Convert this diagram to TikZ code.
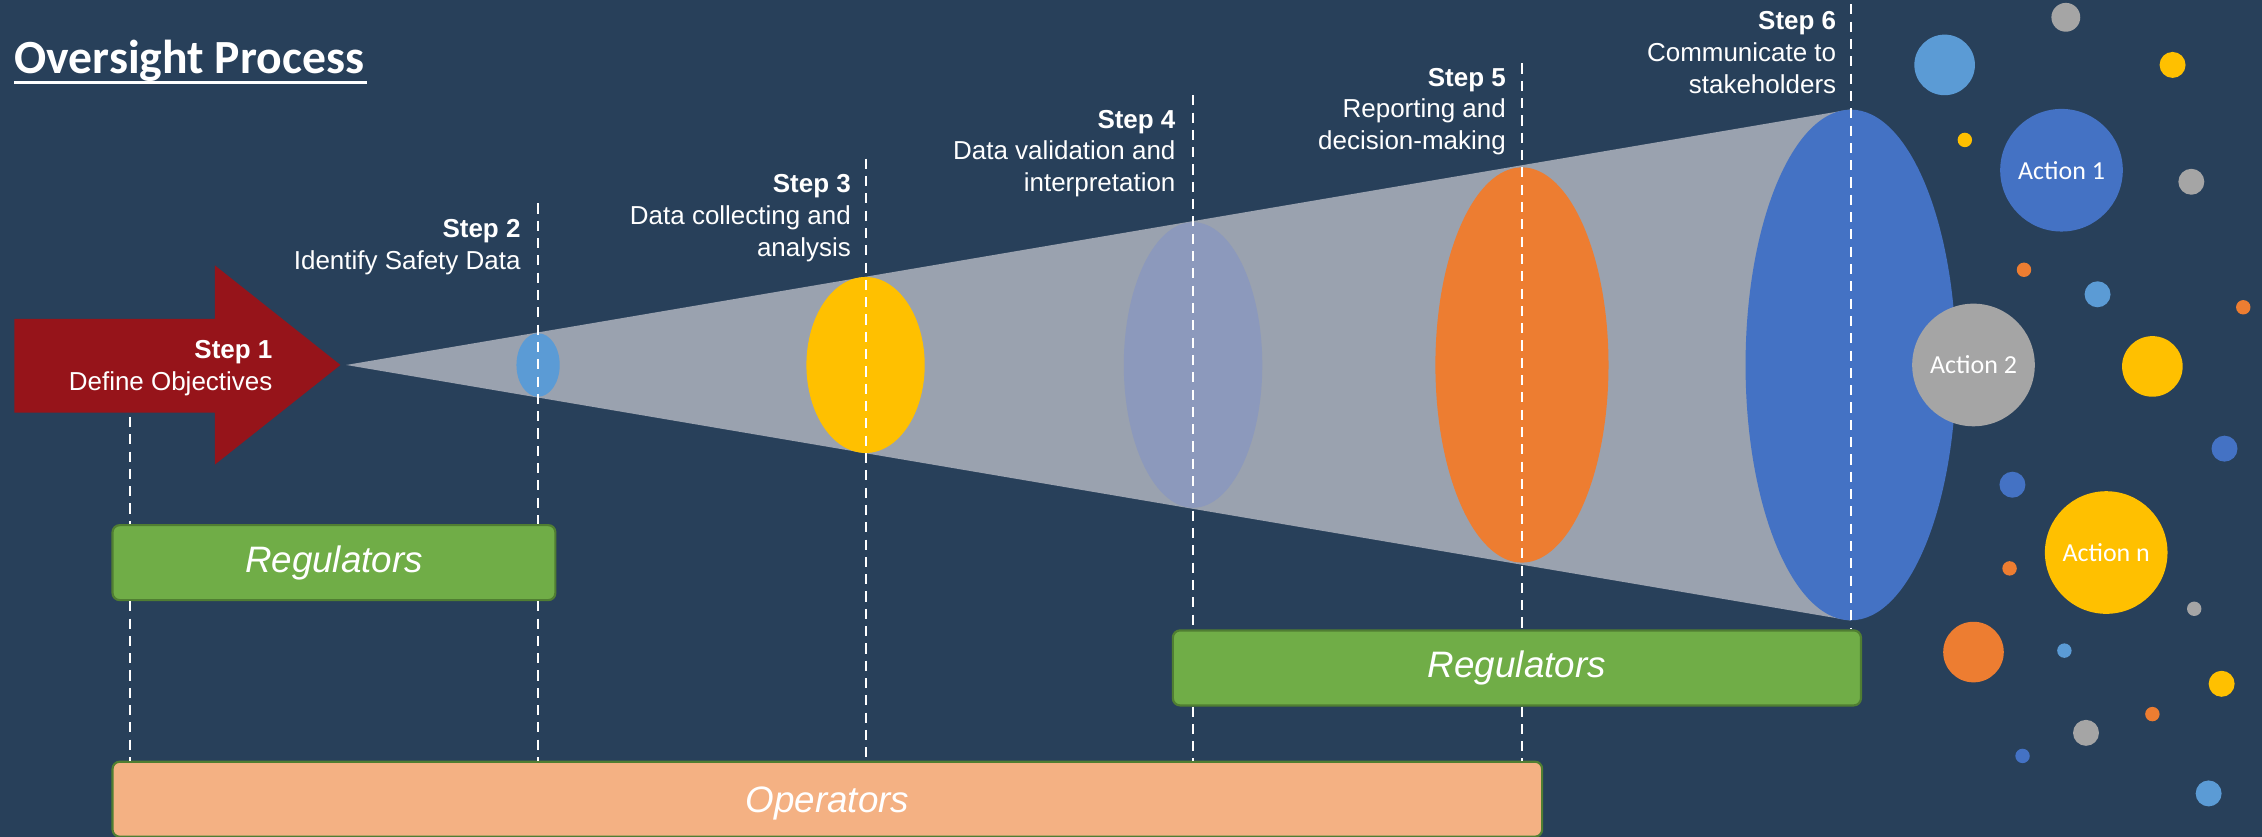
\documentclass[tikz,border=0pt]{standalone}
\usepackage{fontspec}
\setmainfont{Liberation Sans}
\newfontfamily\calfont{Carlito}
\usetikzlibrary{shapes.geometric}

\definecolor{bgnavy}{RGB}{40,64,90}
\definecolor{arrowred}{RGB}{150,20,26}
\definecolor{conegray}{RGB}{154,162,175}
\definecolor{lblue}{RGB}{91,155,213}
\definecolor{ablue}{RGB}{68,114,196}
\definecolor{ayellow}{RGB}{255,192,0}
\definecolor{aorange}{RGB}{237,125,49}
\definecolor{agray}{RGB}{165,165,165}
\definecolor{lavender}{RGB}{140,153,188}
\definecolor{reggreen}{RGB}{112,173,71}
\definecolor{regedge}{RGB}{80,126,50}
\definecolor{opsalmon}{RGB}{244,177,131}

\tikzset{
    guide/.style={white, line width=1.4pt, dash pattern=on 7pt off 5pt},
    blob/.style={ellipse, inner sep=0pt, draw=none},
    steplabel/.style={anchor=north east, align=right, inner sep=0pt, text=white,
        font=\fontsize{18}{22}\selectfont},
    rolebox/.style={rounded corners=5pt, line width=1.5pt, draw=regedge, text=white,
        font=\itshape\fontsize{25.5}{30}\selectfont},
    action/.style={circle, inner sep=0pt, minimum size=85pt, text=white,
        font=\calfont\fontsize{18}{22}\selectfont}
}

\begin{document}
\begin{tikzpicture}[x=1pt, y=-1pt]
    \fill[bgnavy] (0,0) rectangle (1568,580);
    \useasboundingbox (0,0) rectangle (1568,580);

    % title
    \node[anchor=base west, inner sep=0pt, text=white, font=\calfont\bfseries\fontsize{33}{39}\selectfont]
        (title) at (10,51) {Oversight Process};
    \draw[white, line width=2.2pt] ([yshift=-6pt]title.base west) -- ([xshift=2pt,yshift=-6pt]title.base east);

    % step 1 arrow
    \fill[arrowred] (10,221) -- (149,221) -- (149,184) -- (236,253) -- (149,322) -- (149,286) -- (10,286) -- cycle;
    \coordinate (tip) at (240,253);

    % ellipses along the cone
    \node[blob, minimum width=146pt, minimum height=354pt] (e6) at (1283,253) {};
    \fill[conegray] (tip) -- (e6.north) -- (e6.south) -- cycle;
    \node[blob, fill=ablue, minimum width=146pt, minimum height=354pt] at (e6) {};
    \node[blob, fill=lblue, minimum width=30pt, minimum height=44pt] (e2) at (373,253) {};
    \node[blob, fill=ayellow, minimum width=82pt, minimum height=122pt] (e3) at (600,253) {};
    \node[blob, fill=lavender, minimum width=96pt, minimum height=198pt] (e4) at (827,253) {};
    \node[blob, fill=aorange, minimum width=120pt, minimum height=274pt] (e5) at (1055,253) {};

    % role boxes
    \node[rolebox, fill=reggreen, minimum width=307pt, minimum height=52pt] (reg1) at (231.5,390) {Regulators};
    \node[rolebox, fill=reggreen, minimum width=477pt, minimum height=52pt] (reg2) at (1051.5,463) {Regulators};
    \node[rolebox, fill=opsalmon, minimum width=991pt, minimum height=52pt,
        text height=18.6pt, text depth=0.6pt] (ops) at (573.5,554) {Operators};

    % guide lines
    \coordinate (g1) at (90,289);
    \coordinate (g2) at (373,141);
    \coordinate (g3) at (600,110);
    \coordinate (g4) at (827,66);
    \coordinate (g5) at (1055,44);
    \coordinate (g6) at (1283,3);
    \draw[guide] (g1) -- (reg1.north -| g1);
    \draw[guide] (reg1.south -| g1) -- (ops.north -| g1);
    \draw[guide] (g2) -- (reg1.north -| g2);
    \draw[guide] (reg1.south -| g2) -- (ops.north -| g2);
    \draw[guide] (g3) -- (ops.north -| g3);
    \draw[guide] (g4) -- (reg2.north -| g4);
    \draw[guide] (reg2.south -| g4) -- (ops.north -| g4);
    \draw[guide] (g5) -- (reg2.north -| g5);
    \draw[guide] (reg2.south -| g5) -- (ops.north -| g5);
    \draw[guide] (g6) -- (reg2.north -| g6);

    % step labels
    \node[steplabel] (s1) at (189,236) {\textbf{Step 1}\\Define Objectives};
    \node[steplabel] (s2) at (361,152) {\textbf{Step 2}\\Identify Safety Data};
    \node[steplabel] (s3) at (590,121) {\textbf{Step 3}\\Data collecting and\\analysis};
    \node[steplabel] (s4) at (815,76) {\textbf{Step 4}\\Data validation and\\interpretation};
    \node[steplabel] (s5) at (1044,47) {\textbf{Step 5}\\Reporting and\\decision-making};
    \node[steplabel] (s6) at (1273,8) {\textbf{Step 6}\\Communicate to\\stakeholders};

    % scattered dots
    \foreach \x/\y/\r/\c in {1348/45/21/lblue, 1432/12/10/agray, 1506/45/9/ayellow,
        1362/97/5/ayellow, 1519/126/9/agray, 1403/187/5/aorange, 1454/204/9/lblue,
        1555/213/5/aorange, 1492/254/21/ayellow, 1542/311/9/ablue, 1395/336/9/ablue,
        1393/394/5/aorange, 1521/422/5/agray, 1368/452/21/aorange, 1431/451/5/lblue,
        1540/474/9/ayellow, 1492/495/5/aorange, 1446/508/9/agray, 1402/524/5/ablue,
        1531/550/9/lblue}
        \fill[\c] (\x,\y) circle[radius=\r];

    % actions
    \node[action, fill=ablue] (act1) at (1429,118) {Action 1};
    \node[action, fill=agray] (act2) at (1368,253) {Action 2};
    \node[action, fill=ayellow] (actn) at (1460,383) {Action n};
\end{tikzpicture}
\end{document}
